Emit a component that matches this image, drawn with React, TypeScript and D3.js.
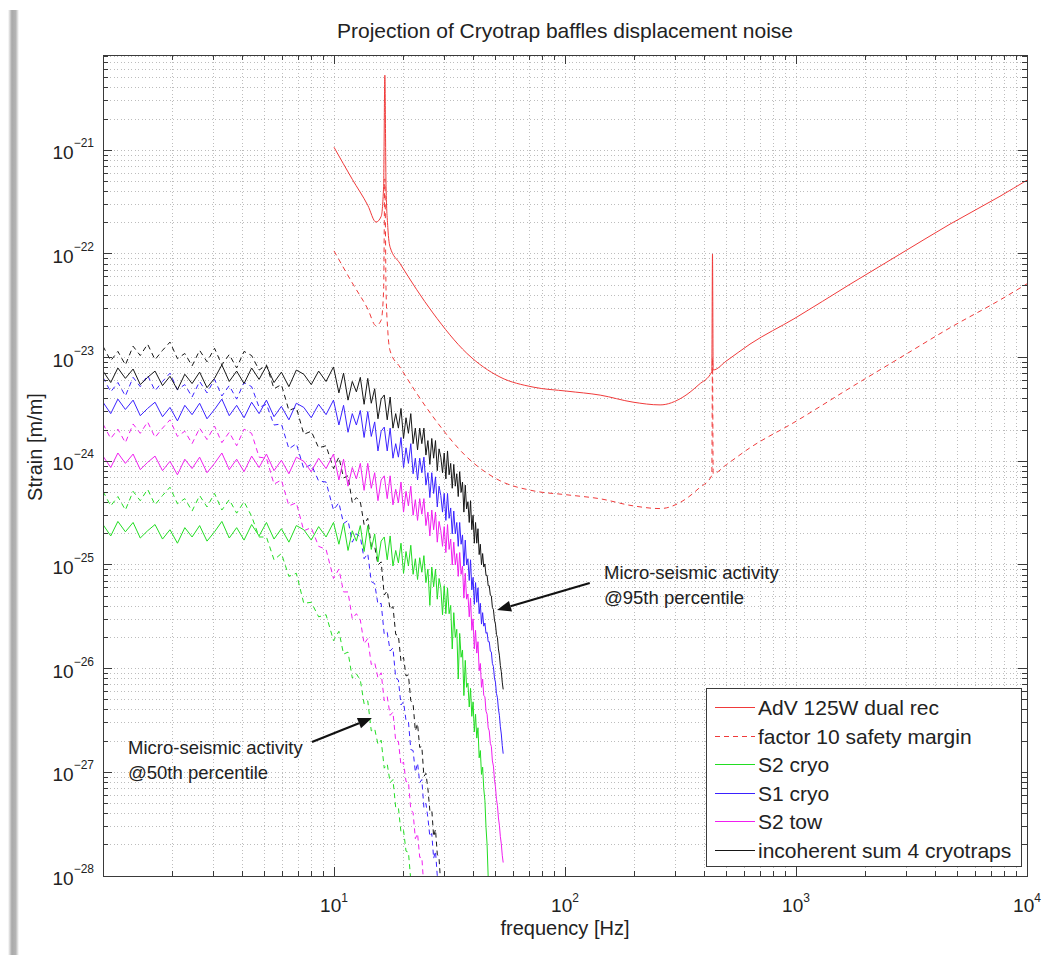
import React from "react";
import * as d3 from "d3";

// frequency grid shared by the seismic projections [Hz]
const freqGrid = [
  1.0, 1.08, 1.16, 1.25, 1.35, 1.45, 1.56, 1.68, 1.81, 1.95,
  2.1, 2.26, 2.43, 2.62, 2.82, 3.04, 3.27, 3.52, 3.79, 4.08,
  4.4, 4.74, 5.1, 5.5, 5.92, 6.38, 6.87, 7.4, 7.97, 8.58,
  9.24, 9.95, 10.5, 11, 11.5, 12, 12.5, 13, 13.5, 14,
  14.5, 15, 15.5, 16, 16.5, 17, 17.5, 18, 18.5, 19,
  19.5, 20, 20.5, 21, 21.5, 22, 22.5, 23, 23.5, 24,
  24.5, 25, 25.5, 26, 26.5, 27, 27.5, 28, 28.5, 29,
  29.5, 30, 30.5, 31, 31.5, 32, 32.5, 33, 33.5, 34,
  34.5, 35, 35.5, 36, 36.5, 37, 37.5, 38, 38.5, 39,
  39.5, 40, 40.5, 41, 41.5, 42, 42.5, 43, 43.5, 44,
  44.5, 45, 45.5, 46, 46.5, 47, 47.5, 48, 48.5, 49,
  49.5, 50, 50.5, 51, 51.5, 52, 52.5, 53, 53.5, 54,
];

// log10(strain), one value per freqGrid entry
// 95th percentile (solid)
const s2CryoP95 = [
  -24.61, -24.72, -24.58, -24.68, -24.59, -24.74, -24.67, -24.61, -24.75, -24.66,
  -24.79, -24.64, -24.73, -24.62, -24.77, -24.68, -24.58, -24.74, -24.64, -24.76,
  -24.61, -24.72, -24.59, -24.75, -24.65, -24.78, -24.62, -24.66, -24.76, -24.63,
  -24.73, -24.59, -24.8, -24.6, -24.86, -24.67, -24.77, -24.62, -24.87, -24.62,
  -24.85, -24.7, -24.97, -24.77, -24.73, -24.95, -24.72, -25.01, -24.86, -24.98,
  -24.79, -25.08, -24.87, -25.01, -24.81, -25.09, -24.94, -25.14, -24.93, -25.07,
  -24.91, -25.17, -25.04, -25.39, -25.02, -25.21, -25.04, -25.33, -25.13, -25.22,
  -25.48, -25.2, -25.47, -25.22, -25.47, -25.39, -25.81, -25.46, -25.7, -25.62,
  -26.1, -25.66, -25.89, -25.82, -26.26, -25.92, -26.18, -26.14, -26.37, -26.19,
  -26.46, -26.32, -26.61, -26.44, -26.67, -26.57, -26.86, -26.79, -27.02, -26.95,
  -27.16, -27.27, -27.53, -27.7, -28.01, -28.25,
];
const s1CryoP95 = [
  -23.43, -23.54, -23.4, -23.5, -23.41, -23.56, -23.49, -23.43, -23.57, -23.48,
  -23.61, -23.46, -23.55, -23.44, -23.59, -23.5, -23.4, -23.56, -23.46, -23.58,
  -23.43, -23.54, -23.41, -23.57, -23.47, -23.6, -23.44, -23.48, -23.58, -23.45,
  -23.55, -23.41, -23.65, -23.46, -23.72, -23.54, -23.65, -23.51, -23.77, -23.52,
  -23.76, -23.62, -23.9, -23.71, -23.67, -23.9, -23.68, -23.97, -23.83, -23.96,
  -23.77, -24.06, -23.87, -24.02, -23.83, -24.12, -23.97, -24.18, -23.97, -24.11,
  -23.96, -24.23, -24.11, -24.35, -24.11, -24.31, -24.15, -24.44, -24.24, -24.33,
  -24.49, -24.31, -24.57, -24.31, -24.55, -24.45, -24.7, -24.48, -24.7, -24.59,
  -24.82, -24.59, -24.8, -24.71, -25.01, -24.76, -25.0, -24.94, -25.15, -24.95,
  -25.24, -25.12, -25.38, -25.17, -25.36, -25.22, -25.47, -25.37, -25.57, -25.46,
  -25.59, -25.56, -25.66, -25.65, -25.74, -25.74, -25.83, -25.84, -25.95, -25.98,
  -26.09, -26.13, -26.24, -26.28, -26.39, -26.45, -26.56, -26.63, -26.74, -26.82,
];
const s2TowP95 = [
  -23.95, -24.06, -23.92, -24.02, -23.93, -24.08, -24.01, -23.95, -24.09, -24.0,
  -24.13, -23.98, -24.07, -23.96, -24.11, -24.02, -23.92, -24.08, -23.98, -24.1,
  -23.95, -24.06, -23.93, -24.09, -23.99, -24.12, -23.96, -24.0, -24.1, -23.97,
  -24.07, -23.93, -24.18, -23.98, -24.24, -24.06, -24.17, -24.02, -24.28, -24.02,
  -24.26, -24.11, -24.38, -24.18, -24.14, -24.36, -24.14, -24.42, -24.27, -24.4,
  -24.2, -24.49, -24.29, -24.43, -24.24, -24.52, -24.37, -24.57, -24.36, -24.51,
  -24.36, -24.62, -24.49, -24.72, -24.47, -24.66, -24.49, -24.78, -24.58, -24.67,
  -24.82, -24.63, -24.88, -24.61, -24.85, -24.75, -25.0, -24.78, -25.0, -24.89,
  -25.11, -24.88, -25.09, -25.01, -25.32, -25.08, -25.33, -25.28, -25.5, -25.32,
  -25.63, -25.52, -25.81, -25.63, -25.85, -25.74, -26.02, -25.95, -26.18, -26.1,
  -26.26, -26.27, -26.41, -26.44, -26.57, -26.6, -26.72, -26.75, -26.89, -26.94,
  -27.07, -27.14, -27.26, -27.32, -27.44, -27.51, -27.62, -27.69, -27.8, -27.87,
];
const sumP95 = [
  -23.13, -23.24, -23.1, -23.2, -23.11, -23.26, -23.19, -23.13, -23.27, -23.18,
  -23.31, -23.16, -23.25, -23.14, -23.29, -23.2, -23.07, -23.23, -23.13, -23.25,
  -23.1, -23.21, -23.08, -23.24, -23.14, -23.28, -23.12, -23.16, -23.26, -23.13,
  -23.23, -23.09, -23.34, -23.15, -23.41, -23.23, -23.33, -23.19, -23.45, -23.2,
  -23.44, -23.3, -23.59, -23.4, -23.36, -23.6, -23.38, -23.68, -23.54, -23.68,
  -23.49, -23.78, -23.58, -23.73, -23.54, -23.83, -23.68, -23.89, -23.68, -23.83,
  -23.68, -23.94, -23.8, -24.03, -23.78, -23.97, -23.8, -24.09, -23.88, -23.96,
  -24.11, -23.92, -24.17, -23.9, -24.13, -24.02, -24.26, -24.03, -24.24, -24.12,
  -24.34, -24.1, -24.3, -24.2, -24.49, -24.23, -24.46, -24.39, -24.59, -24.38,
  -24.66, -24.52, -24.79, -24.59, -24.79, -24.65, -24.9, -24.8, -25.0, -24.89,
  -25.02, -24.99, -25.1, -25.1, -25.2, -25.2, -25.29, -25.3, -25.41, -25.43,
  -25.53, -25.57, -25.67, -25.7, -25.81, -25.87, -25.97, -26.03, -26.13, -26.2,
];

// 50th percentile (dashed)
const s2CryoP50 = [
  -24.29, -24.43, -24.34, -24.47, -24.29, -24.38, -24.27, -24.42, -24.33, -24.25,
  -24.41, -24.36, -24.48, -24.33, -24.44, -24.31, -24.47, -24.37, -24.5, -24.39,
  -24.53, -24.73, -24.73, -24.95, -24.89, -25.11, -25.08, -25.37, -25.36, -25.5,
  -25.48, -25.73, -25.64, -25.86, -25.84, -26.09, -26.05, -26.11, -26.34, -26.31,
  -26.6, -26.58, -26.73, -26.69, -26.96, -26.92, -27.1, -27.07, -27.34, -27.34,
  -27.58, -27.56, -27.76, -27.77, -28.04, -28.07,
];
const s1CryoP50 = [
  -23.19, -23.33, -23.24, -23.37, -23.19, -23.28, -23.17, -23.32, -23.23, -23.15,
  -23.31, -23.26, -23.38, -23.23, -23.34, -23.21, -23.37, -23.27, -23.4, -23.24,
  -23.28, -23.48, -23.45, -23.65, -23.64, -23.88, -23.83, -24.07, -24.03, -24.19,
  -24.2, -24.47, -24.4, -24.6, -24.57, -24.78, -24.7, -24.73, -24.94, -24.89,
  -25.16, -25.18, -25.38, -25.37, -25.67, -25.65, -25.83, -25.8, -26.09, -26.11,
  -26.35, -26.32, -26.5, -26.51, -26.78, -26.79, -27.0, -26.91, -27.1, -27.07,
  -27.34, -27.3, -27.44, -27.62, -27.59, -27.83, -27.76, -28.0, -28.05,
];
const s2TowP50 = [
  -23.64, -23.78, -23.69, -23.82, -23.64, -23.73, -23.62, -23.77, -23.68, -23.6,
  -23.76, -23.71, -23.83, -23.68, -23.79, -23.66, -23.82, -23.72, -23.85, -23.69,
  -23.73, -23.96, -23.97, -24.22, -24.18, -24.43, -24.4, -24.67, -24.64, -24.82,
  -24.85, -25.13, -25.04, -25.26, -25.26, -25.52, -25.47, -25.53, -25.76, -25.71,
  -25.96, -25.94, -26.09, -26.04, -26.31, -26.27, -26.45, -26.42, -26.7, -26.7,
  -26.93, -26.9, -27.09, -27.09, -27.36, -27.39, -27.64, -27.59, -27.82, -27.82,
  -28.11, -28.1,
];
const sumP50 = [
  -22.89, -23.03, -22.94, -23.07, -22.89, -22.98, -22.87, -23.02, -22.93, -22.85,
  -23.01, -22.96, -23.08, -22.93, -23.04, -22.91, -23.07, -22.97, -23.1, -22.94,
  -22.98, -23.12, -23.07, -23.3, -23.26, -23.51, -23.48, -23.74, -23.71, -23.87,
  -23.85, -24.07, -23.96, -24.16, -24.14, -24.4, -24.35, -24.39, -24.61, -24.55,
  -24.82, -24.82, -25.0, -24.97, -25.29, -25.25, -25.43, -25.4, -25.67, -25.68,
  -25.93, -25.89, -26.07, -26.06, -26.31, -26.34, -26.6, -26.53, -26.76, -26.75,
  -27.04, -27.01, -27.16, -27.37, -27.36, -27.62, -27.55, -27.79, -27.83, -28.09,
  -28.05,
];

// AdV sensitivity and the factor-10 margin [Hz], [1/sqrt(Hz)]
const advFreq = [
  10, 12, 14, 15.2, 16, 16.4, 16.6, 16.8, 17.1, 17.5,
  19.3, 26.8, 37.6, 52.3, 72.7, 102, 142, 197, 258, 324,
  380, 432, 435, 438, 500, 632, 990, 1713, 2818, 4642,
  7640, 10000,
];
const advStrain = [
  1.07e-21, 5.25e-22, 2.95e-22, 2.03e-22, 2.3e-22, 4.5e-22, 5.3e-21, 4.5e-22, 1.8e-22, 1.16e-22,
  8.1e-23, 2.7e-23, 1.1e-23, 6.5e-24, 5.2e-24, 4.75e-24, 4.35e-24, 3.72e-24, 3.5e-24, 4.16e-24,
  5.5e-24, 7.3e-24, 1.0e-22, 7.6e-24, 9.3e-24, 1.35e-23, 2.4e-23, 5.1e-23, 9.95e-23, 1.94e-22,
  3.6e-22, 5.15e-22,
];
const safetyStrain = [
  1.07e-22, 5.25e-23, 2.95e-23, 2.03e-23, 2.3e-23, 4.5e-23, 5.3e-22, 4.5e-23, 1.8e-23, 1.16e-23,
  8.1e-24, 2.7e-24, 1.1e-24, 6.5e-25, 5.2e-25, 4.75e-25, 4.35e-25, 3.72e-25, 3.5e-25, 4.16e-25,
  5.5e-25, 7.3e-25, 1.0e-23, 7.6e-25, 9.3e-25, 1.35e-24, 2.4e-24, 5.1e-24, 9.95e-24, 1.94e-23,
  3.6e-23, 5.15e-23,
];

const legendLabels = [
  "AdV 125W dual rec",
  "factor 10 safety margin",
  "S2 cryo",
  "S1 cryo",
  "S2 tow",
  "incoherent sum 4 cryotraps",
];
const xTickExponents = [1, 2, 3, 4];
const yTickExponents = [-28, -27, -26, -25, -24, -23, -22, -21];

// annotation anchors in data units [Hz, strain]
const noteP95 = {
  lines: ["Micro-seismic activity", "@95th percentile"],
  text: [147.5, 7.3e-26],
  tail: [128, 6.7e-26],
  tip: [50.8, 3.67e-26],
};
const noteP50 = {
  lines: ["Micro-seismic activity", "@50th percentile"],
  text: [1.283, 1.5e-27],
  tail: [8.03, 1.96e-27],
  tip: [14.6, 3.34e-27],
};

const RED = "#f03a3a";
const GREEN = "#22dd22";
const BLUE = "#3a22ff";
const MAGENTA = "#f01ef0";
const BLACK = "#161616";
const DASH = "5,4";
const FONT = "'Liberation Sans', Arial, Helvetica, sans-serif";

const M = { left: 103, right: 1027, top: 55, bottom: 876 };

const Arrow = ({ tail, tip }: { tail: number[]; tip: number[] }) => {
  const a = Math.atan2(tip[1] - tail[1], tip[0] - tail[0]);
  const L = 14;
  const w = 5.5;
  const bx = tip[0] - L * Math.cos(a);
  const by = tip[1] - L * Math.sin(a);
  const pts = [
    [tip[0], tip[1]],
    [bx - w * Math.sin(a), by + w * Math.cos(a)],
    [bx + w * Math.sin(a), by - w * Math.cos(a)],
  ];
  return (
    <g>
      <line x1={tail[0]} y1={tail[1]} x2={bx} y2={by} stroke="#111" strokeWidth={2.2} />
      <polygon points={pts.map((p) => p.join(",")).join(" ")} fill="#111" />
    </g>
  );
};

export default function App() {
  const x = d3.scaleLog().domain([1, 1e4]).range([M.left, M.right]);
  const y = d3.scaleLog().domain([1e-28, 8.3e-21]).range([M.bottom, M.top]);
  const line = d3
    .line<[number, number]>()
    .x((d) => x(d[0]))
    .y((d) => y(d[1]));
  const smooth = d3
    .line<[number, number]>()
    .x((d) => x(d[0]))
    .y((d) => y(d[1]))
    .curve(d3.curveMonotoneX);

  const fromLogs = (logs: number[]) =>
    logs.map((v, i) => [freqGrid[i], Math.pow(10, v)] as [number, number]);
  const fromPairs = (fs: number[], vs: number[]) =>
    fs.map((f, i) => [f, vs[i]] as [number, number]);

  const seismic = [
    { logs: s2CryoP50, color: GREEN, dash: DASH },
    { logs: s2TowP50, color: MAGENTA, dash: DASH },
    { logs: s1CryoP50, color: BLUE, dash: DASH },
    { logs: sumP50, color: BLACK, dash: DASH },
    { logs: s2CryoP95, color: GREEN, dash: undefined },
    { logs: s2TowP95, color: MAGENTA, dash: undefined },
    { logs: s1CryoP95, color: BLUE, dash: undefined },
    { logs: sumP95, color: BLACK, dash: undefined },
  ];

  const isMajor = (v: number) =>
    Math.abs(Math.log10(v) - Math.round(Math.log10(v))) < 1e-6;
  const xTicks = x.ticks();
  const yTicks = y.ticks();

  const legendStyles = [
    { color: RED, dash: undefined },
    { color: RED, dash: DASH },
    { color: GREEN, dash: undefined },
    { color: BLUE, dash: undefined },
    { color: MAGENTA, dash: undefined },
    { color: BLACK, dash: undefined },
  ];

  const notePx = (p: number[]) => [x(p[0]), y(p[1])];

  return (
    <svg
      width={1042}
      height={955}
      style={{ position: "absolute", left: 0, top: 0, background: "#fff" }}
      fontFamily={FONT}
    >
      <defs>
        <clipPath id="plotClip">
          <rect x={M.left} y={M.top} width={M.right - M.left} height={M.bottom - M.top} />
        </clipPath>
        <linearGradient id="shadow" x1="0" x2="1" y1="0" y2="0">
          <stop offset="0" stopColor="#fff" />
          <stop offset="0.35" stopColor="#a9a9a9" />
          <stop offset="0.7" stopColor="#b4b4b4" />
          <stop offset="1" stopColor="#fff" />
        </linearGradient>
      </defs>

      {/* window shadow on the left */}
      <rect x={8} y={10} width={11} height={945} fill="url(#shadow)" />

      {/* title */}
      <text x={(M.left + M.right) / 2} y={38} textAnchor="middle" fontSize={21} fill="#222">
        Projection of Cryotrap baffles displacement noise
      </text>

      {/* grid */}
      <g stroke="#bdbdbd" strokeWidth={1} strokeDasharray="1,2.5" shapeRendering="crispEdges">
        {xTicks
          .filter((t) => x(t) > M.left + 1 && x(t) < M.right - 1)
          .map((t, i) => (
            <line key={"gx" + i} x1={x(t)} x2={x(t)} y1={M.top} y2={M.bottom} />
          ))}
        {yTicks
          .filter((t) => y(t) > M.top + 1 && y(t) < M.bottom - 1)
          .map((t, i) => (
            <line key={"gy" + i} x1={M.left} x2={M.right} y1={y(t)} y2={y(t)} />
          ))}
      </g>

      {/* curves */}
      <g clipPath="url(#plotClip)" fill="none" strokeLinejoin="round">
        <path d={smooth(fromPairs(advFreq, advStrain)) || ""} stroke={RED} strokeWidth={1} />
        <path
          d={smooth(fromPairs(advFreq, safetyStrain)) || ""}
          stroke={RED}
          strokeWidth={1}
          strokeDasharray={DASH}
        />
        {seismic.map((s, i) => (
          <path
            key={"s" + i}
            d={line(fromLogs(s.logs)) || ""}
            stroke={s.color}
            strokeWidth={1}
            strokeDasharray={s.dash}
          />
        ))}
      </g>

      {/* box and ticks */}
      <g stroke="#3a3a3a" strokeWidth={1} shapeRendering="crispEdges">
        <rect
          x={M.left}
          y={M.top}
          width={M.right - M.left}
          height={M.bottom - M.top}
          fill="none"
        />
        {xTicks.map((t, i) => {
          const len = isMajor(t) ? 9 : 5;
          return (
            <g key={"tx" + i}>
              <line x1={x(t)} x2={x(t)} y1={M.bottom} y2={M.bottom - len} />
              <line x1={x(t)} x2={x(t)} y1={M.top} y2={M.top + len} />
            </g>
          );
        })}
        {yTicks.map((t, i) => {
          const len = isMajor(t) ? 9 : 5;
          return (
            <g key={"ty" + i}>
              <line x1={M.left} x2={M.left + len} y1={y(t)} y2={y(t)} />
              <line x1={M.right} x2={M.right - len} y1={y(t)} y2={y(t)} />
            </g>
          );
        })}
      </g>

      {/* tick labels */}
      <g fill="#222">
        {xTickExponents.map((e) => (
          <text key={"xl" + e} x={x(Math.pow(10, e))} y={912} textAnchor="middle" fontSize={19}>
            10
            <tspan dy={-10} fontSize={12}>
              {e}
            </tspan>
          </text>
        ))}
        {yTickExponents.map((e) => (
          <text key={"yl" + e} x={94} y={y(Math.pow(10, e)) + 9} textAnchor="end" fontSize={19}>
            10
            <tspan dy={-12} fontSize={12}>
              {"\u2212" + Math.abs(e)}
            </tspan>
          </text>
        ))}
      </g>

      {/* axis labels */}
      <text x={(M.left + M.right) / 2} y={935} textAnchor="middle" fontSize={20} fill="#222">
        frequency [Hz]
      </text>
      <text
        transform="translate(42,447) rotate(-90)"
        textAnchor="middle"
        fontSize={20}
        fill="#222"
      >
        Strain [m/m]
      </text>

      {/* annotations */}
      {[noteP95, noteP50].map((n, k) => {
        const t = notePx(n.text);
        return (
          <g key={"note" + k}>
            {n.lines.map((s, j) => (
              <text key={j} x={t[0]} y={t[1] + j * 25} fontSize={18.5} fill="#222">
                {s}
              </text>
            ))}
            <Arrow tail={notePx(n.tail)} tip={notePx(n.tip)} />
          </g>
        );
      })}

      {/* legend */}
      <g>
        <rect
          x={706}
          y={688}
          width={315}
          height={178}
          fill="#fff"
          stroke="#3a3a3a"
          strokeWidth={1}
          shapeRendering="crispEdges"
        />
        {legendLabels.map((lab, i) => {
          const cy = Math.round(707 + i * 28.5) + 0.5;
          const st = legendStyles[i];
          return (
            <g key={"lg" + i}>
              <line
                x1={715}
                x2={755}
                y1={cy}
                y2={cy}
                stroke={st.color}
                strokeWidth={1}
                strokeDasharray={st.dash}
              />
              <text x={758} y={cy + 7} fontSize={21} fill="#222">
                {lab}
              </text>
            </g>
          );
        })}
      </g>
    </svg>
  );
}
